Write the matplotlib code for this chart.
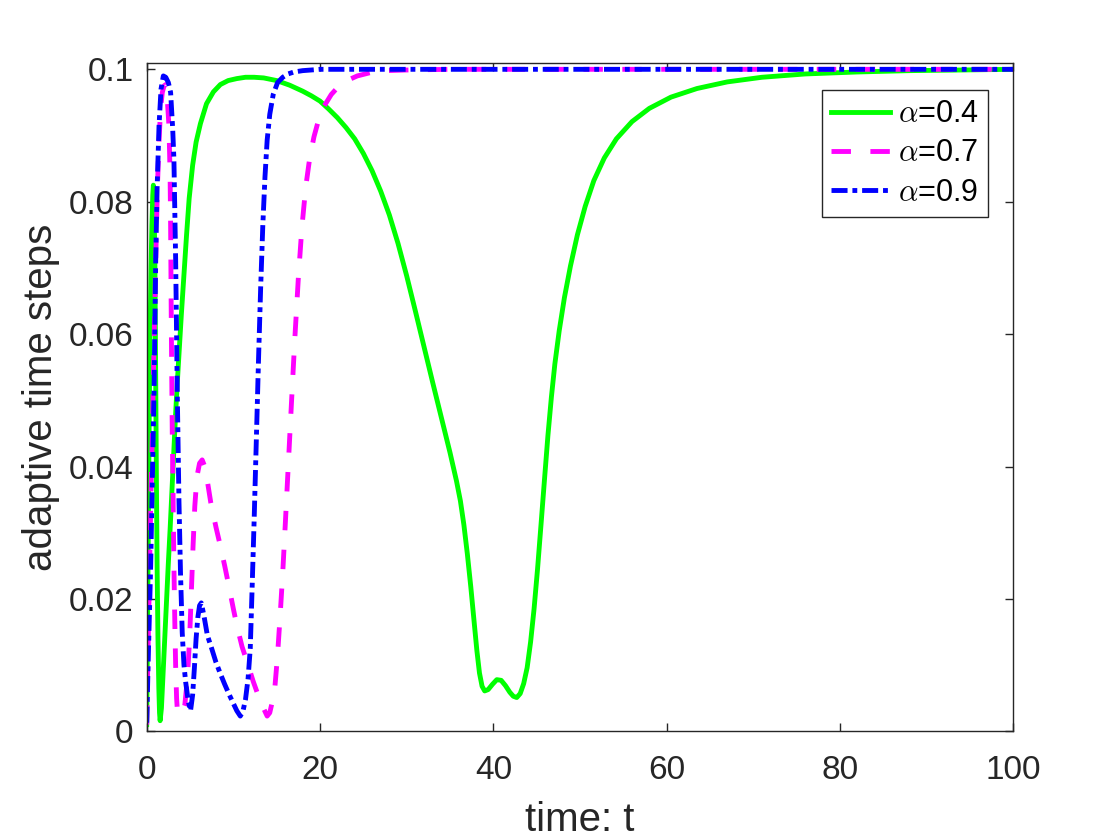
import matplotlib
matplotlib.use('Agg')
import matplotlib.pyplot as plt

# ---- data ----
t_a04 = [0.0, 0.1, 0.2, 0.3, 0.4, 0.5, 0.6, 0.7, 0.77, 0.85, 0.95, 1.04, 1.12, 1.2, 1.3, 1.4, 1.48, 1.55,
         1.7, 1.9, 2.1, 2.3, 2.5, 2.7, 2.9, 3.1, 3.3, 3.5, 3.75, 4.0, 4.3, 4.6, 4.9, 5.3, 5.7, 6.2, 6.9,
         7.7, 8.5, 9.4, 10.4, 11.4, 12.4, 13.5, 15.0, 16.5, 18.0, 19.0, 20.0, 21.0, 22.0, 23.0, 24.0,
         25.0, 26.0, 27.0, 28.0, 29.0, 30.0, 31.0, 32.0, 33.0, 34.0, 35.0, 35.75, 36.2, 36.6, 37.0, 37.4,
         37.8, 38.1, 38.4, 38.7, 39.0, 39.4, 39.9, 40.4, 40.9, 41.4, 41.9, 42.3, 42.7, 43.1, 43.5, 43.9,
         44.3, 44.7, 45.1, 45.5, 45.9, 46.3, 46.7, 47.1, 47.6, 48.2, 48.9, 49.7, 50.6, 51.6, 52.8, 54.2,
         56.0, 58.0, 60.5, 63.5, 67.0, 71.0, 76.0, 82.0, 88.0, 94.0, 100.0]
y_a04 = [0.001, 0.016, 0.033, 0.049, 0.061, 0.070, 0.0765, 0.081, 0.0825, 0.0805, 0.070, 0.053, 0.038,
         0.025, 0.014, 0.0065, 0.0028, 0.0016, 0.0035, 0.009, 0.0145, 0.020, 0.0255, 0.0305, 0.036,
         0.0415, 0.047, 0.052, 0.0575, 0.063, 0.069, 0.075, 0.0805, 0.0855, 0.089, 0.0918, 0.0948, 0.0966,
         0.0977, 0.0983, 0.0986, 0.0988, 0.0988, 0.0987, 0.0983, 0.0976, 0.0967, 0.096, 0.0952, 0.094,
         0.0927, 0.0912, 0.0895, 0.0873, 0.0847, 0.0816, 0.078, 0.0737, 0.0688, 0.0635, 0.0581, 0.0527,
         0.0474, 0.0421, 0.0378, 0.0348, 0.0312, 0.0268, 0.0218, 0.0163, 0.0122, 0.0088, 0.0068, 0.0061,
         0.0063, 0.0071, 0.0078, 0.0077, 0.0069, 0.0059, 0.0053, 0.0051, 0.0057, 0.0072, 0.0096, 0.0135,
         0.0185, 0.0245, 0.0312, 0.038, 0.0447, 0.0505, 0.0555, 0.0605, 0.0655, 0.0703, 0.075, 0.0793,
         0.0832, 0.0866, 0.0895, 0.0921, 0.0941, 0.0958, 0.0971, 0.0981, 0.0988, 0.0993, 0.0996, 0.0998,
         0.0999, 0.1]

t_a07 = [0.0, 0.15, 0.27, 0.45, 0.65, 0.85, 1.04, 1.23, 1.42, 1.6, 1.8, 2.0, 2.2, 2.4, 2.57, 2.7, 2.76,
         2.84, 2.95, 3.05, 3.14, 3.25, 3.34, 3.45, 3.53, 3.7, 3.9, 4.1, 4.4, 4.7, 4.95, 5.15, 5.35, 5.55,
         5.8, 6.1, 6.4, 6.7, 7.0, 7.4, 8.0, 8.5, 9.0, 9.5, 10.0, 10.4, 11.0, 11.7, 12.3, 12.9, 13.4, 13.9,
         14.2, 14.5, 14.8, 15.1, 15.4, 15.7, 16.0, 16.35, 16.7, 17.1, 17.5, 17.9, 18.35, 18.8, 19.3, 19.8,
         20.5, 21.3, 22.2, 23.1, 24.3, 25.8, 27.5, 30.0, 35.0, 100.0]
y_a07 = [0.001, 0.012, 0.020, 0.033, 0.045, 0.059, 0.071, 0.082, 0.089, 0.094, 0.0965, 0.0975, 0.0977,
         0.095, 0.0914, 0.084, 0.0763, 0.0612, 0.045, 0.035, 0.025, 0.016, 0.0099, 0.005, 0.0033, 0.0026,
         0.0025, 0.0028, 0.004, 0.008, 0.014, 0.021, 0.028, 0.034, 0.0385, 0.0405, 0.041, 0.040, 0.0378,
         0.0345, 0.0308, 0.028, 0.025, 0.0218, 0.0185, 0.016, 0.0128, 0.010, 0.0075, 0.0053, 0.0037,
         0.0023, 0.0028, 0.0045, 0.0068, 0.0115, 0.0175, 0.024, 0.0315, 0.0405, 0.0495, 0.0595, 0.0685,
         0.076, 0.0822, 0.0865, 0.0898, 0.0922, 0.0945, 0.0962, 0.0975, 0.0983, 0.099, 0.0995, 0.0998,
         0.0999, 0.1, 0.1]

t_a09 = [0.0, 0.2, 0.46, 0.65, 0.84, 1.04, 1.2, 1.42, 1.65, 1.92, 2.2, 2.5, 2.76, 3.0, 3.14, 3.34, 3.53,
         3.72, 3.9, 4.1, 4.3, 4.5, 4.8, 5.06, 5.3, 5.5, 5.7, 5.9, 6.1, 6.3, 6.6, 7.0, 7.5, 8.0, 8.5, 9.0,
         9.5, 10.0, 10.4, 10.8, 11.1, 11.4, 11.7, 11.95, 12.15, 12.4, 12.65, 12.9, 13.15, 13.4, 13.65,
         13.9, 14.2, 14.6, 15.1, 15.7, 16.3, 17.0, 18.0, 20.0, 100.0]
y_a09 = [0.0013, 0.012, 0.025, 0.038, 0.051, 0.0713, 0.082, 0.0914, 0.097, 0.099, 0.0988, 0.098, 0.0965,
         0.091, 0.0864, 0.0713, 0.051, 0.035, 0.024, 0.0149, 0.010, 0.0074, 0.0045, 0.0031, 0.0055,
         0.0095, 0.014, 0.0172, 0.019, 0.0194, 0.0175, 0.0145, 0.0125, 0.0104, 0.0087, 0.0071, 0.0056,
         0.0042, 0.0031, 0.0023, 0.003, 0.0048, 0.008, 0.0125, 0.021, 0.032, 0.044, 0.056, 0.067, 0.0765,
         0.0838, 0.0893, 0.0932, 0.0962, 0.098, 0.0988, 0.0993, 0.0996, 0.0998, 0.1, 0.1]

series_labels = [r'$\alpha$=0.4', r'$\alpha$=0.7', r'$\alpha$=0.9']
x_ticks = [0, 20, 40, 60, 80, 100]
y_ticks = [0, 0.02, 0.04, 0.06, 0.08, 0.1]
y_tick_labels = ['0', '0.02', '0.04', '0.06', '0.08', '0.1']
x_label = 'time: t'
y_label = 'adaptive time steps'

# ---- styling ----
plt.rcParams['font.family'] = ['Liberation Sans', 'DejaVu Sans']
plt.rcParams['mathtext.fontset'] = 'cm'
ink = '#262626'

fig = plt.figure(figsize=(11.2, 8.4), dpi=100)
ax = fig.add_axes([146.7 / 1120, 1 - 731.3 / 840, 866.6 / 1120, 668.6 / 840])

lw = 3.5
ax.plot(t_a04, y_a04, color='#00ff00', lw=lw, ls='-', label=series_labels[0],
        solid_joinstyle='round')
ax.plot(t_a07, y_a07, color='#ff00ff', lw=lw, ls=(0, (4.0, 4.0)), label=series_labels[1],
        dash_capstyle='butt')
ax.plot(t_a09, y_a09, color='#0000ff', lw=lw, ls=(0, (3.3, 1.0, 1.0, 1.0)), label=series_labels[2],
        dash_capstyle='butt')

ax.set_xlim(0, 100)
ax.set_ylim(0, 0.101)
ax.set_xticks(x_ticks)
ax.set_yticks(y_ticks)
ax.set_yticklabels(y_tick_labels)

for s in ax.spines.values():
    s.set_color(ink)
    s.set_linewidth(1.0)

ax.tick_params(direction='in', length=6, width=1.0, top=True, right=True,
               labelsize=24, colors=ink)
ax.tick_params(axis='x', pad=17)
ax.tick_params(axis='y', pad=9.5)

ax.set_xlabel(x_label, fontsize=29, color=ink, labelpad=11)
ax.set_ylabel(y_label, fontsize=29, color=ink, labelpad=6)

leg = ax.legend(loc='upper right', bbox_to_anchor=(0.971, 0.959), borderaxespad=0,
                fontsize=22, frameon=True, fancybox=False, edgecolor=ink, framealpha=1,
                handlelength=1.95, handletextpad=0.25, borderpad=0.3, labelspacing=0.3)
leg.get_frame().set_linewidth(1.0)

fig.savefig('out.png', dpi=100)
